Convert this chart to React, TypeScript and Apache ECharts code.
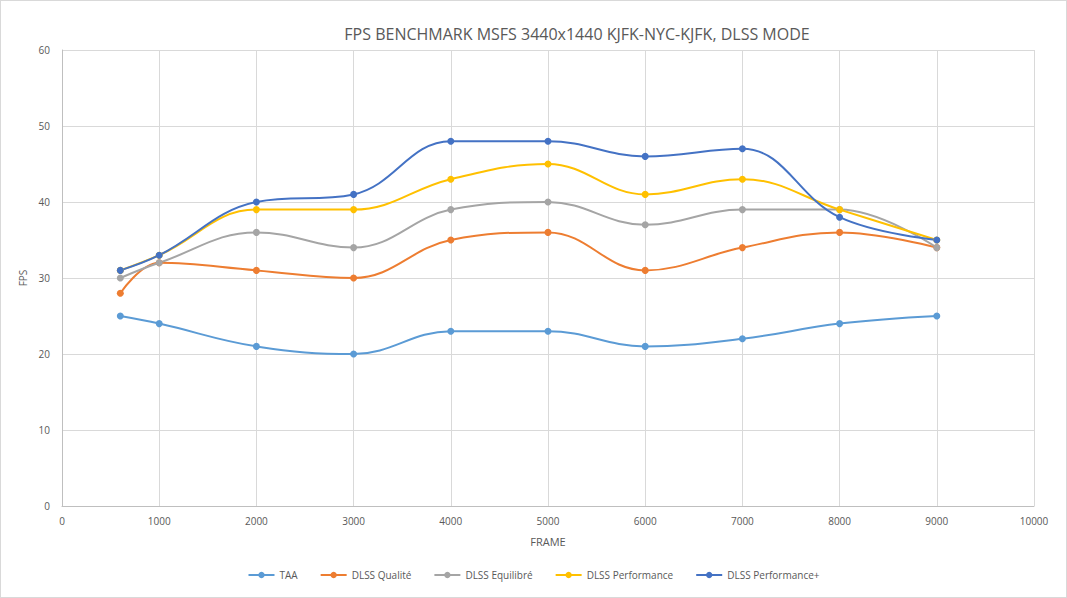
import React, { useEffect, useRef } from "react";
import * as echarts from "echarts";

const frames = [600, 1000, 2000, 3000, 4000, 5000, 6000, 7000, 8000, 9000];
const taa = [25, 24, 21, 20, 23, 23, 21, 22, 24, 25];
const dlssQualite = [28, 32, 31, 30, 35, 36, 31, 34, 36, 34];
const dlssEquilibre = [30, 32, 36, 34, 39, 40, 37, 39, 39, 34];
const dlssPerformance = [31, 33, 39, 39, 43, 45, 41, 43, 39, 35];
const dlssPerformancePlus = [31, 33, 40, 41, 48, 48, 46, 47, 38, 35];

const seriesNames = ["TAA", "DLSS Qualité", "DLSS Equilibré", "DLSS Performance", "DLSS Performance+"];
const seriesColors = ["#5B9BD5", "#ED7D31", "#A5A5A5", "#FFC000", "#4472C4"];
const seriesValues = [taa, dlssQualite, dlssEquilibre, dlssPerformance, dlssPerformancePlus];

const FONT = "'Open Sans', 'Noto Sans', sans-serif";

export default function App() {
  const ref = useRef<HTMLDivElement>(null);
  useEffect(() => {
    if (!ref.current) return;
    const chart = echarts.init(ref.current, undefined, { renderer: "svg" });
    chart.setOption({
      animation: false,
      backgroundColor: "#ffffff",
      textStyle: { fontFamily: FONT },
      title: {
        text: "FPS BENCHMARK MSFS 3440x1440 KJFK-NYC-KJFK, DLSS MODE",
        left: 571,
        top: 20,
        textAlign: "center",
        textStyle: { fontSize: 16, fontWeight: "normal", color: "#595959", fontFamily: FONT },
      },
      legend: {
        data: seriesNames,
        bottom: 12,
        left: "center",
        itemWidth: 26,
        itemHeight: 8,
        itemGap: 22,
        textStyle: { fontSize: 10, color: "#595959", fontFamily: FONT },
      },
      grid: { left: 61, right: 32, top: 49, bottom: 91, containLabel: false },
      xAxis: {
        type: "value",
        min: 0,
        max: 10000,
        interval: 1000,
        name: "FRAME",
        nameLocation: "middle",
        nameGap: 30,
        nameTextStyle: { fontSize: 11, color: "#595959" },
        axisLine: { show: true, lineStyle: { color: "#BFBFBF" } },
        axisTick: { show: false },
        axisLabel: { fontSize: 10, color: "#595959", margin: 10, formatter: (v: number) => String(v) },
        splitLine: { show: true, lineStyle: { color: "#D9D9D9" } },
      },
      yAxis: {
        type: "value",
        min: 0,
        max: 60,
        interval: 10,
        name: "FPS",
        nameLocation: "middle",
        nameGap: 33,
        nameRotate: 90,
        nameTextStyle: { fontSize: 10, color: "#595959" },
        axisLine: { show: true, lineStyle: { color: "#BFBFBF" } },
        axisTick: { show: false },
        axisLabel: { fontSize: 10, color: "#595959", margin: 12 },
        splitLine: { show: true, lineStyle: { color: "#D9D9D9" } },
      },
      series: seriesNames.map((name, i) => ({
        name,
        type: "line",
        smooth: 0.4,
        symbol: "circle",
        symbolSize: 7,
        color: seriesColors[i],
        lineStyle: { width: 2, color: seriesColors[i] },
        itemStyle: { color: seriesColors[i] },
        data: frames.map((f, j) => [f, seriesValues[i][j]]),
      })),
    });
    return () => chart.dispose();
  }, []);
  return (
    <div
      ref={ref}
      style={{
        position: "fixed",
        left: 0,
        top: 0,
        width: 1067,
        height: 598,
        boxSizing: "border-box",
        border: "1px solid #D9D9D9",
      }}
    />
  );
}
